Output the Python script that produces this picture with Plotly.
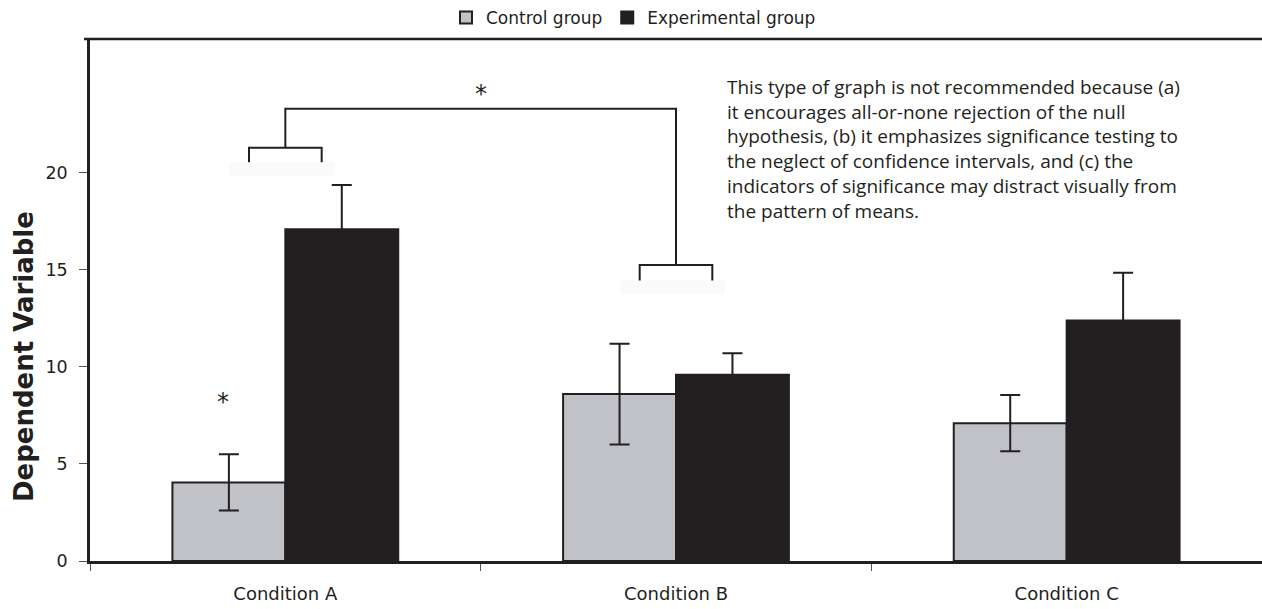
import plotly.graph_objects as go

# ---- data ----
categories = ["Condition A", "Condition B", "Condition C"]
control_means = [4.05, 8.6, 7.1]
control_err = [1.45, 2.6, 1.45]
exp_means = [17.1, 9.6, 12.4]
exp_err = [2.27, 1.1, 2.45]
y_tick_vals = [0, 5, 10, 15, 20]
y_tick_text = ["0", "5", "10", "15", "20"]

note_lines = [
    "This type of graph is not recommended because (a)",
    "it encourages all-or-none rejection of the null",
    "hypothesis, (b) it emphasizes significance testing to",
    "the neglect of confidence intervals, and (c) the",
    "indicators of significance may distract visually from",
    "the pattern of means.",
]

INK = "#231f20"
GREY = "#c0c2c8"
W, H = 1262, 609
ML, MR, MT, MB = 90, 0, 39, 48
Y_MAX = 26.9

fig = go.Figure()
fig.add_trace(go.Bar(
    name="Control group", x=categories, y=control_means,
    marker=dict(color=GREY, line=dict(color=INK, width=2)),
    error_y=dict(type="data", array=control_err, visible=True,
                 color=INK, thickness=2, width=10),
))
fig.add_trace(go.Bar(
    name="Experimental group", x=categories, y=exp_means,
    marker=dict(color=INK, line=dict(color=INK, width=2)),
    error_y=dict(type="data", array=exp_err, visible=True,
                 color=INK, thickness=2, width=10),
))

def py(px):
    """pixel y -> paper y"""
    return (H - MB - px) / (H - MT - MB)

def pxx(px):
    return (px - ML) / (W - ML - MR)

shapes = []
line_style = dict(color=INK, width=2.5)
# top border
shapes.append(dict(type="line", xref="paper", yref="paper",
                   x0=pxx(84), x1=1, y0=1, y1=1, line=line_style))

# significance brackets (annotation geometry)
half = 0.093
brackets = [(0, 21.3, 20.55), (1, 15.25, 14.45)]
top_level = 23.3
for cx, yb, yleg in brackets:
    # faint highlight under bracket
    shapes.append(dict(type="rect", xref="x", yref="y",
                       x0=cx - 0.144, x1=cx + 0.125, y0=yleg - 0.72, y1=yleg,
                       fillcolor="#fafafa", line=dict(width=0), layer="below"))
    shapes.append(dict(type="path", xref="x", yref="y",
                       path=f"M {cx-half},{yleg} L {cx-half},{yb} L {cx+half},{yb} L {cx+half},{yleg}",
                       line=dict(color=INK, width=2)))
shapes.append(dict(type="path", xref="x", yref="y",
                   path=f"M {brackets[0][0]},{brackets[0][1]} L {brackets[0][0]},{top_level} "
                        f"L {brackets[1][0]},{top_level} L {brackets[1][0]},{brackets[1][1]}",
                   line=dict(color=INK, width=2)))

annotations = []
# asterisks
annotations.append(dict(x=0.5, y=top_level + 0.75, xref="x", yref="y", text="*",
                        showarrow=False, font=dict(family="DejaVu Sans", size=24, color=INK)))
annotations.append(dict(x=-0.16, y=8.2, xref="x", yref="y", text="*",
                        showarrow=False, font=dict(family="DejaVu Sans", size=24, color=INK)))
# note text
annotations.append(dict(x=pxx(725), y=py(72), xref="paper", yref="paper",
                        xanchor="left", yanchor="top", align="left",
                        text="<br>".join(note_lines), showarrow=False,
                        font=dict(family="Open Sans", size=19, color=INK)))
# y axis title
annotations.append(dict(x=pxx(24), y=py(357), xref="paper", yref="paper",
                        text="<b>Dependent Variable</b>", textangle=-90, showarrow=False,
                        xanchor="center", yanchor="middle",
                        font=dict(family="DejaVu Sans", size=26, color=INK)))

fig.update_layout(
    width=W, height=H,
    margin=dict(l=ML, r=MR, t=MT, b=MB),
    plot_bgcolor="white", paper_bgcolor="white",
    barmode="group", bargap=0.422, bargroupgap=0,
    font=dict(family="DejaVu Sans", size=17, color=INK),
    showlegend=True,
    legend=dict(orientation="h", x=pxx(446), xanchor="left", y=py(18), yanchor="middle",
                font=dict(family="DejaVu Sans", size=17, color=INK),
                bgcolor="rgba(0,0,0,0)", traceorder="normal"),
    shapes=shapes,
    annotations=annotations,
)
fig.update_xaxes(
    type="category", range=[-0.5, 2.5],
    showline=True, linecolor=INK, linewidth=2.5,
    ticks="outside", tickson="boundaries", ticklen=7, tickwidth=1, tickcolor="#555",
    showgrid=False, zeroline=False, ticklabelstandoff=15,
    tickfont=dict(family="DejaVu Sans", size=18, color=INK),
)
fig.update_yaxes(
    range=[0, Y_MAX],
    showline=True, linecolor=INK, linewidth=2.5,
    tickvals=y_tick_vals, ticktext=y_tick_text,
    ticks="outside", ticklen=8, tickwidth=1, tickcolor="#555",
    showgrid=False, zeroline=False, ticklabelstandoff=8,
    tickfont=dict(family="DejaVu Sans", size=17.5, color=INK),
)

fig.write_html("out.html")
